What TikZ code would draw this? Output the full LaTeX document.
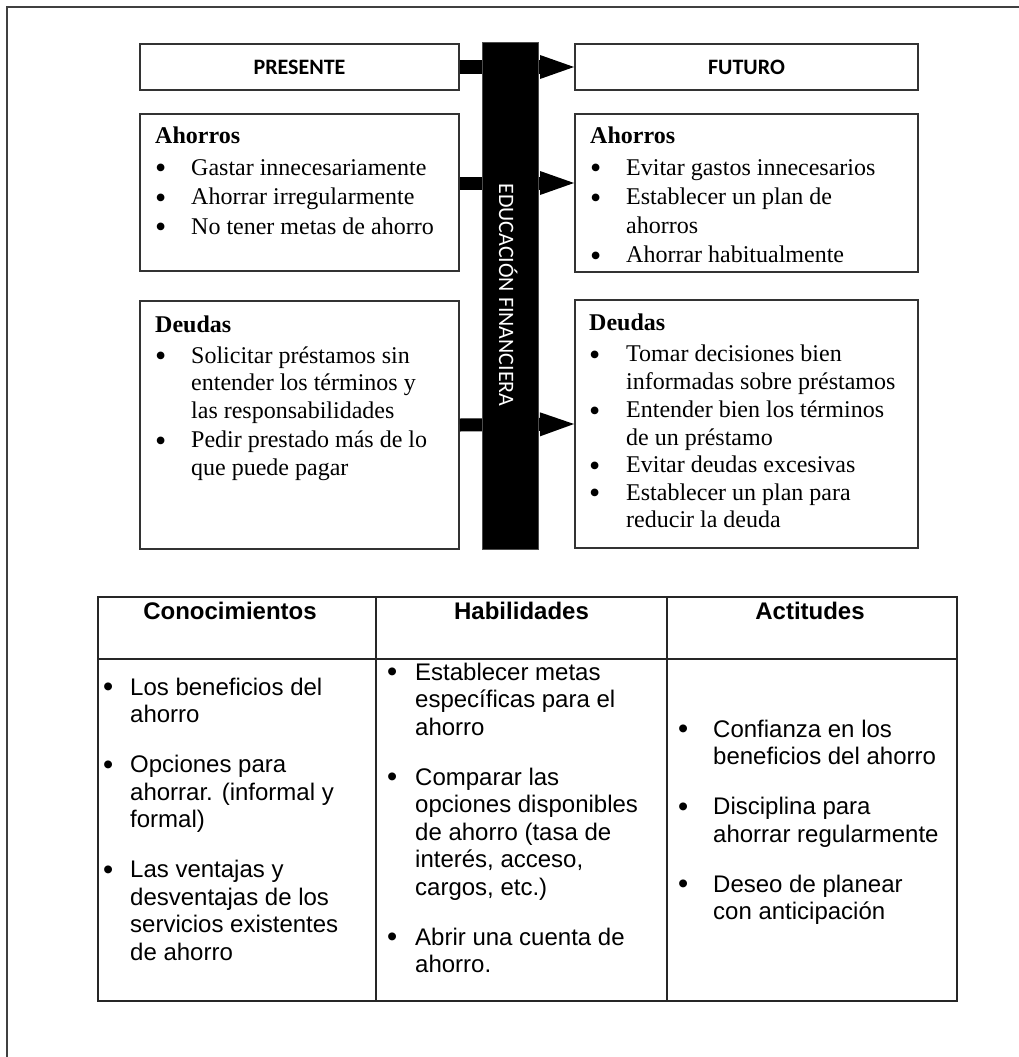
\documentclass[tikz,border=0pt]{standalone}
\usepackage{fontspec}
\setmainfont{Liberation Serif}
\newfontfamily\arialf{Liberation Sans}
\newfontfamily\calibrif{Carlito}
\usepackage{array}
\usetikzlibrary{arrows.meta}
\newcommand\sbul{{\fontsize{32}{0}\selectfont\raisebox{-3.5pt}{\textbullet}}}
\newcommand\tbul{{\fontsize{29}{0}\selectfont\raisebox{-1.8pt}{\textbullet}}}
\tikzset{
  boxstyle/.style={draw=black!80, line width=2pt, inner sep=0pt, anchor=north west},
  hdr/.style={font=\calibrif\bfseries\fontsize{22}{26}\selectfont},
  boxtxt/.style={anchor=base west, inner sep=0pt},
  toptxt/.style={boxtxt, font=\fontsize{24}{29.5}\selectfont},
  bottxt/.style={boxtxt, font=\fontsize{24}{27.5}\selectfont},
  conn/.style={line width=13pt, -{Triangle[length=34pt,width=24pt,line width=0pt]}},
  barstyle/.style={fill=black, draw=black!70, line width=1pt, inner sep=0pt},
  bartext/.style={text=white, font=\calibrif\fontsize{22}{26}\selectfont, inner sep=0pt},
  tline/.style={draw=black!85, line width=1.6pt},
  thdr/.style={font=\arialf\bfseries\fontsize{24}{27.5}\selectfont, inner sep=0pt, anchor=base},
  tbody/.style={font=\arialf\fontsize{24}{27.5}\selectfont, inner sep=0pt, anchor=base west},
  frame/.style={draw=black!75, line width=2.2pt}
}
\begin{document}
\begin{tikzpicture}[x=1pt,y=-1pt]
\useasboundingbox (0,0) rectangle (1019,1057);
% outer frame (top and left edges visible)
\draw[frame] (7,1070) -- (7,7) -- (1030,7);

% boxes
\node[boxstyle, minimum width=319pt, minimum height=46pt, hdr] (pres) at (139,43) {PRESENTE};
\node[boxstyle, minimum width=343pt, minimum height=46pt, hdr] (fut) at (574,43) {FUTURO};
\node[boxstyle, minimum width=319pt, minimum height=157pt] (lah) at (139,113) {};
\node[boxstyle, minimum width=343pt, minimum height=158pt] (rah) at (574,113) {};
\node[boxstyle, minimum width=319pt, minimum height=248pt] (lde) at (139,300) {};
\node[boxstyle, minimum width=343pt, minimum height=248pt] (rde) at (574,299) {};

% arrows
\coordinate (lv2) at (0,183);
\draw[conn] (pres.east) -- (fut.west);
\draw[conn] (lah.east |- lv2) -- (rah.west |- lv2);
\draw[conn] (lde.east) -- (rde.west);

% central bar
\node[barstyle, minimum width=56pt, minimum height=506pt] (bar) at (510,296) {};
\node[bartext, rotate=-90, anchor=base] (edu) at (499,295) {EDUCACIÓN FINANCIERA};

% box texts
\node[toptxt] (lahT) at (155,143) {\begin{tabular}[t]{@{}p{36pt}@{}l@{}}
\multicolumn{2}{@{}l@{}}{\textbf{Ahorros}}\\[2.5pt]
\sbul & Gastar innecesariamente\\
\sbul & Ahorrar irregularmente\\
\sbul & No tener metas de ahorro
\end{tabular}};

\node[toptxt] (rahT) at (590,143) {\begin{tabular}[t]{@{}p{36pt}@{}l@{}}
\multicolumn{2}{@{}l@{}}{\textbf{Ahorros}}\\[2.5pt]
\sbul & Evitar gastos innecesarios\\
\sbul & Establecer un plan de\\[-1pt]
 & ahorros\\
\sbul & Ahorrar habitualmente
\end{tabular}};

\node[bottxt] (ldeT) at (155,332) {\begin{tabular}[t]{@{}p{36pt}@{}l@{}}
\multicolumn{2}{@{}l@{}}{\textbf{Deudas}}\\[3.5pt]
\sbul & Solicitar préstamos sin\\
 & entender los términos y\\
 & las responsabilidades\\[2pt]
\sbul & Pedir prestado más de lo\\
 & que puede pagar
\end{tabular}};

\node[bottxt] (rdeT) at (589,330) {\begin{tabular}[t]{@{}p{37pt}@{}l@{}}
\multicolumn{2}{@{}l@{}}{\textbf{Deudas}}\\[4pt]
\sbul & Tomar decisiones bien\\
 & informadas sobre préstamos\\[1pt]
\sbul & Entender bien los términos\\
 & de un préstamo\\
\sbul & Evitar deudas excesivas\\
\sbul & Establecer un plan para\\
 & reducir la deuda
\end{tabular}};

% table
\coordinate (tnw) at (98,597);
\coordinate (tse) at (957,1001);
\draw[tline] (tnw) rectangle (tse);
\draw[tline] (98,659) -- (957,659);
\draw[tline] (376,597) -- (376,1001);
\draw[tline] (667,597) -- (667,1001);

\node[thdr] (h1) at (230,619) {Conocimientos};
\node[thdr] (h2) at (521.5,619) {Habilidades};
\node[thdr] (h3) at (810,619) {Actitudes};

\node[tbody] (c1) at (103,695) {\begin{tabular}[t]{@{}p{27pt}@{}l@{}}
\tbul & Los beneficios del\\
 & ahorro\\[22.5pt]
\tbul & Opciones para\\
 & ahorrar. (informal y\\
 & formal)\\[22.5pt]
\tbul & Las ventajas y\\
 & desventajas de los\\
 & servicios existentes\\
 & de ahorro
\end{tabular}};

\node[tbody] (c2) at (387,680) {\begin{tabular}[t]{@{}p{28pt}@{}l@{}}
\tbul & Establecer metas\\
 & específicas para el\\
 & ahorro\\[22.5pt]
\tbul & Comparar las\\
 & opciones disponibles\\
 & de ahorro (tasa de\\
 & interés, acceso,\\
 & cargos, etc.)\\[22.5pt]
\tbul & Abrir una cuenta de\\
 & ahorro.
\end{tabular}};

\node[tbody] (c3) at (678,737) {\begin{tabular}[t]{@{}p{35pt}@{}l@{}}
\tbul & Confianza en los\\
 & beneficios del ahorro\\[22.5pt]
\tbul & Disciplina para\\
 & ahorrar regularmente\\[22.5pt]
\tbul & Deseo de planear\\
 & con anticipación
\end{tabular}};
\end{tikzpicture}
\end{document}
